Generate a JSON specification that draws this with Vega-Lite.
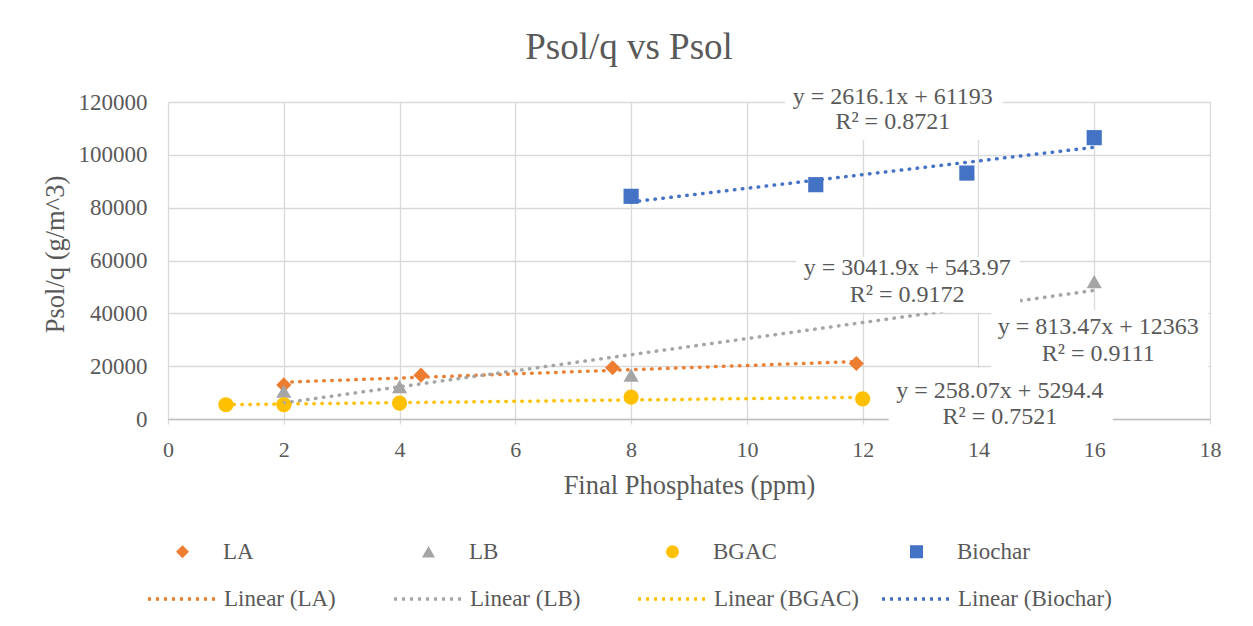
{
  "$schema": "https://vega.github.io/schema/vega-lite/v6.json",
  "width": 1042,
  "height": 317,
  "autosize": {"type": "none"},
  "padding": {"left": 168, "top": 102, "right": 43, "bottom": 207},
  "background": "white",
  "title": {"text": "Psol/q vs Psol", "font": "Liberation Serif", "fontSize": 37, "fontWeight": "normal", "color": "#595959", "anchor": "middle", "dx": -60, "dy": 33, "offset": 22, "baseline": "alphabetic"},
  "config": {
    "view": {"stroke": null},
    "font": "Liberation Serif",
    "axis": {"labelFont": "Liberation Serif", "titleFont": "Liberation Serif"},
    "legend": {"labelFont": "Liberation Serif", "titleFont": "Liberation Serif"},
    "text": {"font": "Liberation Serif"}
  },
  "datasets": {
    "pts": [
      {"series": "LA", "trend": "Linear (LA)", "x": 2, "y": 12900},
      {"series": "LA", "trend": "Linear (LA)", "x": 4.37, "y": 16600},
      {"series": "LA", "trend": "Linear (LA)", "x": 7.68, "y": 19400},
      {"series": "LA", "trend": "Linear (LA)", "x": 11.89, "y": 21000},
      {"series": "LB", "trend": "Linear (LB)", "x": 2, "y": 10500},
      {"series": "LB", "trend": "Linear (LB)", "x": 4, "y": 12250},
      {"series": "LB", "trend": "Linear (LB)", "x": 8, "y": 16600},
      {"series": "LB", "trend": "Linear (LB)", "x": 16, "y": 52000},
      {"series": "BGAC", "trend": "Linear (BGAC)", "x": 1, "y": 5400},
      {"series": "BGAC", "trend": "Linear (BGAC)", "x": 2, "y": 5400},
      {"series": "BGAC", "trend": "Linear (BGAC)", "x": 4, "y": 6000},
      {"series": "BGAC", "trend": "Linear (BGAC)", "x": 8, "y": 8300},
      {"series": "BGAC", "trend": "Linear (BGAC)", "x": 12, "y": 7600},
      {"series": "Biochar", "trend": "Linear (Biochar)", "x": 8, "y": 84300},
      {"series": "Biochar", "trend": "Linear (Biochar)", "x": 11.19, "y": 88700},
      {"series": "Biochar", "trend": "Linear (Biochar)", "x": 13.8, "y": 93100},
      {"series": "Biochar", "trend": "Linear (Biochar)", "x": 16, "y": 106500}
    ],
    "boxes": [
      {"x": 10.66, "x2": 14.42, "y": 105600, "y2": 126500},
      {"x": 10.85, "x2": 14.72, "y": 40300, "y2": 61300},
      {"x": 14.22, "x2": 17.97, "y": 17800, "y2": 41300},
      {"x": 12.45, "x2": 16.32, "y": -3400, "y2": 19300}
    ],
    "labels": [
      {"x": 12.52, "y": 122000, "text": "y = 2616.1x + 61193"},
      {"x": 12.52, "y": 112450, "text": "R² = 0.8721"},
      {"x": 12.77, "y": 57170, "text": "y = 3041.9x + 543.97"},
      {"x": 12.77, "y": 46950, "text": "R² = 0.9172"},
      {"x": 16.07, "y": 34830, "text": "y = 813.47x + 12363"},
      {"x": 16.07, "y": 24600, "text": "R² = 0.9111"},
      {"x": 14.37, "y": 10700, "text": "y = 258.07x + 5294.4"},
      {"x": 14.37, "y": 870, "text": "R² = 0.7521"}
    ]
  },
  "layer": [
    {
      "data": {"name": "pts"},
      "mark": {"type": "point", "filled": true, "size": 230, "opacity": 1},
      "encoding": {
        "x": {
          "field": "x", "type": "quantitative",
          "scale": {"domain": [0, 18], "nice": false, "zero": false},
          "axis": {
            "title": "Final Phosphates (ppm)",
            "values": [0, 2, 4, 6, 8, 10, 12, 14, 16, 18],
            "format": "d",
            "grid": true, "gridColor": "#d9d9d9", "gridWidth": 1.3,
            "domain": true, "domainColor": "#bfbfbf", "domainWidth": 1.5,
            "ticks": true, "tickColor": "#d9d9d9", "tickSize": 5, "tickWidth": 1.3,
            "labelFont": "Liberation Serif", "labelFontSize": 22, "labelColor": "#595959",
            "labelPadding": 15, "labelFlush": false, "labelOverlap": false,
            "titleFont": "Liberation Serif", "titleFontSize": 26.5, "titleFontWeight": "normal", "titleColor": "#595959",
            "titleY": 74, "titleBaseline": "alphabetic"
          }
        },
        "y": {
          "field": "y", "type": "quantitative",
          "scale": {"domain": [0, 120000], "nice": false},
          "axis": {
            "title": "Psol/q (g/m^3)",
            "values": [0, 20000, 40000, 60000, 80000, 100000, 120000],
            "format": "d",
            "grid": true, "gridColor": "#d9d9d9", "gridWidth": 1.3,
            "domain": false, "ticks": false,
            "labelFont": "Liberation Serif", "labelFontSize": 23, "labelColor": "#595959",
            "labelPadding": 21, "labelFlush": false, "labelOverlap": false,
            "titleFont": "Liberation Serif", "titleFontSize": 26.5, "titleFontWeight": "normal", "titleColor": "#595959",
            "titleX": -105, "titleY": 152, "titleBaseline": "alphabetic", "titleAngle": -90
          }
        },
        "color": {
          "field": "series", "type": "nominal",
          "scale": {"domain": ["LA", "LB", "BGAC", "Biochar"], "range": ["#ED7D31", "#A5A5A5", "#FFC000", "#4472C4"]},
          "legend": {
            "title": null, "orient": "none", "legendX": 3, "legendY": 438,
            "direction": "horizontal", "columns": 4, "columnPadding": 128, "padding": 0,
            "symbolSize": 170, "labelOffset": 29,
            "labelFont": "Liberation Serif", "labelFontSize": 23, "labelColor": "#595959",
            "labelExpr": "datum.label == 'LA' || datum.label == 'LB' ? datum.label + '\u00a0\u00a0\u00a0\u00a0\u00a0\u00a0\u200b' : datum.label"
          }
        },
        "shape": {
          "field": "series", "type": "nominal",
          "scale": {"domain": ["LA", "LB", "BGAC", "Biochar"], "range": ["diamond", "triangle-up", "circle", "square"]},
          "legend": {
            "title": null, "orient": "none", "legendX": 3, "legendY": 438,
            "direction": "horizontal", "columns": 4, "columnPadding": 128, "padding": 0,
            "symbolSize": 170, "labelOffset": 29,
            "labelFont": "Liberation Serif", "labelFontSize": 23, "labelColor": "#595959",
            "labelExpr": "datum.label == 'LA' || datum.label == 'LB' ? datum.label + '\u00a0\u00a0\u00a0\u00a0\u00a0\u00a0\u200b' : datum.label"
          }
        }
      }
    },
    {
      "data": {"name": "pts"},
      "transform": [{"regression": "y", "on": "x", "groupby": ["trend"], "method": "linear"}],
      "mark": {"type": "line", "strokeDash": [0.5, 7.5], "strokeCap": "round", "strokeWidth": 3.5, "clip": false},
      "encoding": {
        "x": {"field": "x", "type": "quantitative"},
        "y": {"field": "y", "type": "quantitative"},
        "stroke": {
          "field": "trend", "type": "nominal",
          "scale": {"domain": ["Linear (LA)", "Linear (LB)", "Linear (BGAC)", "Linear (Biochar)"], "range": ["#ED7D31", "#A5A5A5", "#FFC000", "#4472C4"]},
          "legend": {
            "title": null, "orient": "none", "legendX": -22, "legendY": 460,
            "direction": "horizontal", "columns": 4, "columnPadding": 16, "padding": 0,
            "symbolType": "stroke", "symbolSize": 4900, "symbolStrokeWidth": 3.5, "symbolDash": [3, 5],
            "labelOffset": 4,
            "labelFont": "Liberation Serif", "labelFontSize": 23, "labelColor": "#595959",
            "labelExpr": "datum.label == 'Linear (LA)' || datum.label == 'Linear (LB)' ? datum.label + '\u00a0\u00a0\u00a0\u00a0\u00a0\u00a0\u200b' : datum.label"
          }
        }
      }
    },
    {
      "data": {"name": "boxes"},
      "mark": {"type": "rect", "fill": "white", "clip": false},
      "encoding": {
        "x": {"field": "x", "type": "quantitative"},
        "x2": {"field": "x2"},
        "y": {"field": "y", "type": "quantitative"},
        "y2": {"field": "y2"}
      }
    },
    {
      "data": {"name": "labels"},
      "mark": {"type": "text", "font": "Liberation Serif", "fontSize": 24, "color": "#595959", "align": "center", "baseline": "middle", "clip": false},
      "encoding": {
        "x": {"field": "x", "type": "quantitative"},
        "y": {"field": "y", "type": "quantitative"},
        "text": {"field": "text"}
      }
    }
  ]
}
